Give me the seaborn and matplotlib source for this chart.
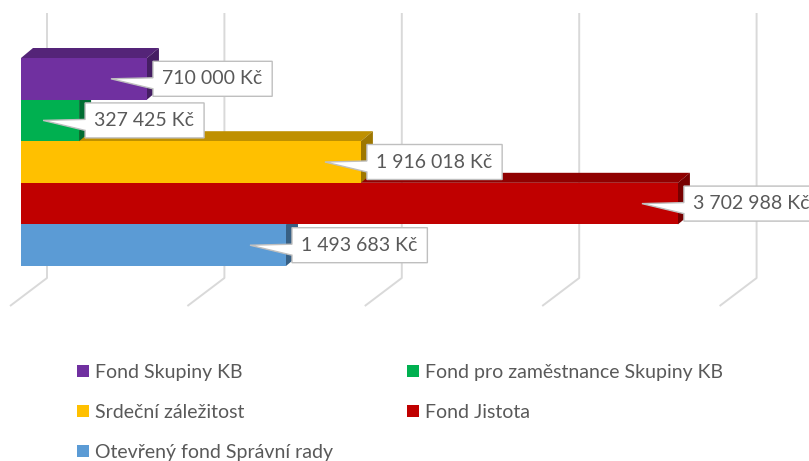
import matplotlib
matplotlib.use("Agg")
import matplotlib.pyplot as plt
from matplotlib.patches import Polygon, Patch
import seaborn as sns
import pandas as pd
import numpy as np

# ---- data ----
funds = ["Fond Skupiny KB", "Fond pro zaměstnance Skupiny KB", "Srdeční záležitost",
         "Fond Jistota", "Otevřený fond Správní rady"]
amounts = [710000, 327425, 1916018, 3702988, 1493683]
colors = ["#7030A0", "#00B050", "#FFC000", "#C00000", "#5B9BD5"]
ticks = [0, 1000000, 2000000, 3000000, 4000000]

sns.set_theme(style="white")
plt.rcParams["font.family"] = ["Lato", "DejaVu Sans"]
TXT = "#595959"
FS = 14

W, H = 809, 461
fig = plt.figure(figsize=(W / 100, H / 100), dpi=100)
ax = fig.add_axes([0, 0, 1, 1])

# pixel layout mapping
X0PX, PXPERM = 21.0, 177.4
Y0PX, PXPERBAR = 58.0, 41.6
def xd(px):  # px -> data x
    return (px - X0PX) / PXPERM * 1e6
def yd(py):  # px(top-origin) -> data y
    return (py - Y0PX) / PXPERBAR - 0.5
def dxd(dpx):
    return dpx / PXPERM * 1e6
def dyd(dpx):
    return dpx / PXPERBAR

df = pd.DataFrame({"fond": funds, "castka": amounts})
sns.barplot(data=df, y="fond", x="castka", hue="fond", palette=colors, orient="h",
            width=1.0, legend=False, saturation=1, ax=ax, linewidth=0)

ax.set_xlim(xd(0), xd(W))
ax.set_ylim(yd(H), yd(0))
ax.set_axis_off()

# gridlines (3D floor/back wall look)
GRID = "#d9d9d9"
for v in ticks:
    bx = v + dxd(26)
    fx = v - dxd(11)
    ax.plot([bx, bx, fx], [yd(13), yd(278), yd(306)], color=GRID, lw=1.4,
            zorder=1, solid_capstyle="butt")

# 3D faces
def shade(c, f):
    r, g, b = matplotlib.colors.to_rgb(c)
    return (r * f, g * f, b * f)

DX, DY = dxd(12), dyd(-10)
bars = list(ax.patches)
order = sorted(range(len(bars)), key=lambda i: -(bars[i].get_y() + bars[i].get_height() / 2))
for rank, i in enumerate(order):
    p = bars[i]
    z = 2 + rank
    x0, x1 = p.get_x(), p.get_x() + p.get_width()
    ytop, ybot = p.get_y(), p.get_y() + p.get_height()
    col = colors[i]
    p.set_zorder(z + 0.2)
    top = Polygon([(x0, ytop), (x1, ytop), (x1 + DX, ytop + DY), (x0 + DX, ytop + DY)],
                  closed=True, facecolor=shade(col, 0.75), edgecolor="none", zorder=z)
    side = Polygon([(x1, ytop), (x1 + DX, ytop + DY), (x1 + DX, ybot + DY), (x1, ybot)],
                   closed=True, facecolor=shade(col, 0.62), edgecolor="none", zorder=z + 0.1)
    ax.add_patch(top)
    ax.add_patch(side)

# value callouts
fig.canvas.draw()
renderer = fig.canvas.get_renderer()
inv = ax.transData.inverted()
for i, p in enumerate(bars):
    x1 = p.get_x() + p.get_width()
    yc = p.get_y() + p.get_height() / 2
    label = f"{amounts[i]:,}".replace(",", " ") + " Kč"
    t = ax.text(x1 + dxd(15), yc, label, ha="left", va="center", fontsize=FS,
                color=TXT, zorder=20)
    bb = t.get_window_extent(renderer)
    bx0 = x1 + dxd(6)
    bx1 = inv.transform((bb.x1, 0))[0] + dxd(10)
    bt, bbm = yc - dyd(17.5), yc + dyd(17.5)
    tip = (x1 - dxd(36), yc)
    poly = [(bx0, bt), (bx1, bt), (bx1, bbm), (bx0, bbm),
            (bx0, yc + dyd(10)), tip, (bx0, yc - dyd(1))]
    ax.add_patch(Polygon(poly, closed=True, facecolor="white", edgecolor="#bfbfbf",
                         lw=1.0, zorder=19))

# legend
handles = [Patch(facecolor=c, edgecolor="none") for c in colors]
idx = [0, 2, 4, 1, 3]
fpx = FS * 100 / 72
leg = ax.legend([handles[k] for k in idx], [funds[k] for k in idx], ncol=2,
                loc="upper left", bbox_to_anchor=(77 / W, 1 - 364 / H),
                bbox_transform=fig.transFigure, frameon=False, fontsize=FS,
                handlelength=12 / fpx, handleheight=12 / fpx, handletextpad=6 / fpx,
                labelspacing=1.18, columnspacing=3.8, borderaxespad=0, borderpad=0)
for txt in leg.get_texts():
    txt.set_color(TXT)

fig.savefig("out.png", dpi=100)
